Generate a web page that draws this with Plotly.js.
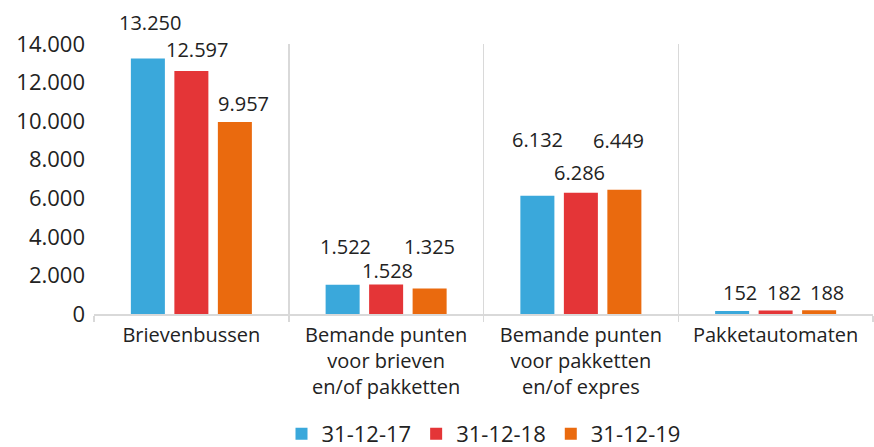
<!DOCTYPE html>
<html>
<head>
<meta charset="utf-8">
<script src="https://cdn.plot.ly/plotly-3.0.1.min.js"></script>
<style>html,body{margin:0;padding:0;background:#fff;}#chart{width:874px;height:447px;}</style>
</head>
<body>
<div id="chart"></div>
<script>
const categories = ["Brievenbussen", "Bemande punten<br>voor brieven<br>en/of pakketten", "Bemande punten<br>voor pakketten<br>en/of expres", "Pakketautomaten"];
const seriesNames = ["31-12-17", "31-12-18", "31-12-19"];
const values2017 = [13250, 1522, 6132, 152];
const values2018 = [12597, 1528, 6286, 182];
const values2019 = [9957, 1325, 6449, 188];
const valueLabels2017 = ["13.250", "1.522", "6.132", "152"];
const valueLabels2018 = ["12.597", "1.528", "6.286", "182"];
const valueLabels2019 = ["9.957", "1.325", "6.449", "188"];
const yTickVals = [0, 2000, 4000, 6000, 8000, 10000, 12000, 14000];
const yTickText = ["0", "2.000", "4.000", "6.000", "8.000", "10.000", "12.000", "14.000"];

// label placement (styles, not data)
const colors = ["#3aa8db", "#e43537", "#ea6a0e"];
const slotShift = [-43.5, 0, 43.5];
const labelYShift = [[36, 38, 56, 19], [22, 14, 20, 18], [18, 42, 49, 18]];
const labelXShift = [[2, 3, 0, 8], [5.5, 1.5, -1, 8], [9, 0, -5.5, 8]];

const font = "'Open Sans', sans-serif";
const allValues = [values2017, values2018, values2019];
const allLabels = [valueLabels2017, valueLabels2018, valueLabels2019];

const data = allValues.map((vals, i) => ({
  type: "bar",
  name: seriesNames[i],
  x: categories,
  y: vals,
  marker: {color: colors[i]},
  hoverinfo: "none"
}));

const annotations = [];
allValues.forEach((vals, s) => {
  vals.forEach((v, c) => {
    annotations.push({
      x: categories[c], y: v, xref: "x", yref: "y",
      text: allLabels[s][c], showarrow: false,
      xanchor: "center", yanchor: "middle",
      xshift: slotShift[s] + labelXShift[s][c],
      yshift: labelYShift[s][c],
      font: {family: font, size: 20, color: "#222"}
    });
  });
});

const layout = {
  width: 874, height: 447,
  margin: {l: 94, r: 1, t: 44, b: 133, autoexpand: false},
  paper_bgcolor: "#fff", plot_bgcolor: "#fff",
  barmode: "group", bargap: 0.33, bargroupgap: 0.218,
  font: {family: font, color: "#222", size: 20},
  showlegend: true,
  legend: {orientation: "h", x: 0.5, xanchor: "center", y: -0.522, yanchor: "bottom",
           font: {family: font, size: 22, color: "#222"}, itemwidth: 30, tracegroupgap: 0},
  xaxis: {
    type: "category", tickson: "boundaries", showgrid: true, gridcolor: "#d9d9d9", gridwidth: 1.5,
    ticks: "outside", ticklen: 6, tickcolor: "#d9d9d9", tickwidth: 1.5,
    showline: true, linecolor: "#d9d9d9", linewidth: 1.5,
    ticklabelstandoff: 2,
    tickfont: {family: font, size: 20, color: "#222"}, automargin: false, fixedrange: true
  },
  yaxis: {
    range: [0, 14000], tickvals: yTickVals, ticktext: yTickText,
    showgrid: false, zeroline: false, showline: false, ticks: "",
    ticklabelstandoff: 8,
    tickfont: {family: font, size: 22, color: "#222"}, automargin: false, fixedrange: true
  },
  annotations: annotations
};

Plotly.newPlot("chart", data, layout, {staticPlot: true, displayModeBar: false});
</script>
</body>
</html>
